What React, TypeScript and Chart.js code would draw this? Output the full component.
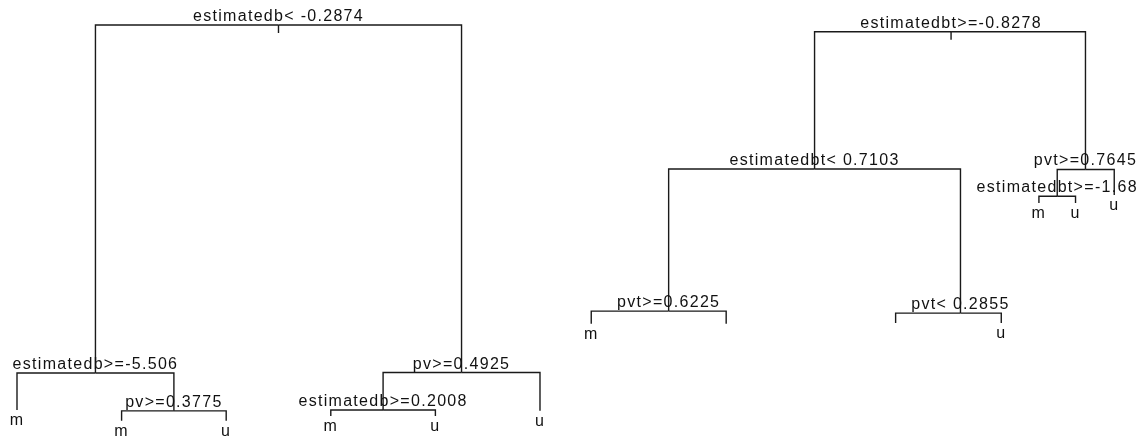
import { useEffect, useRef } from "react";
import { Chart, registerables } from "chart.js";

Chart.register(...registerables);

// Left classification tree (splits on estimatedb / pv)
const leftLabels = [
  "estimatedb< -0.2874",
  "estimatedb>=-5.506",
  "m",
  "pv>=0.3775",
  "m",
  "u",
  "pv>=0.4925",
  "estimatedb>=0.2008",
  "m",
  "u",
  "u",
];
const leftParent = [-1, 0, 1, 1, 3, 3, 0, 6, 7, 7, 6];
const leftX = [3.5, 1.75, 1, 2.5, 2, 3, 5.25, 4.5, 4, 5, 6];
const leftY = [100, 12.8, 3.5, 3.3, 0.8, 0.8, 12.9, 3.5, 2.0, 2.0, 3.3];

// Right classification tree (splits on estimatedbt / pvt)
const rightLabels = [
  "estimatedbt>=-0.8278",
  "estimatedbt< 0.7103",
  "pvt>=0.6225",
  "m",
  "",
  "pvt< 0.2855",
  "",
  "u",
  "pvt>=0.7645",
  "estimatedbt>=-1.68",
  "m",
  "u",
  "u",
];
const rightParent = [-1, 0, 1, 2, 2, 1, 5, 5, 0, 8, 9, 9, 8];
const rightX = [9.93, 8.625, 7.23, 6.49, 7.78, 10.02, 9.4, 10.41, 11.215, 10.945, 10.77, 11.12, 11.49];
const rightY = [98.3, 63.9, 28.3, 25.1, 25.1, 27.8, 25.3, 25.3, 63.8, 57.1, 55.4, 55.4, 57.4];

type Tree = { labels: string[]; parent: number[]; x: number[]; y: number[] };
const trees: Tree[] = [
  { labels: leftLabels, parent: leftParent, x: leftX, y: leftY },
  { labels: rightLabels, parent: rightParent, x: rightX, y: rightY },
];

const LINE = "#1a1a1a";
const ROOT_STEM = 2.0; // length of the stem under each root, in height units
const FONT = "16px 'Liberation Sans', Arial, sans-serif";

function branchDatasets() {
  const sets: any[] = [];
  trees.forEach((t) => {
    t.parent.forEach((p, i) => {
      const data =
        p < 0
          ? [
              { x: t.x[i], y: t.y[i] },
              { x: t.x[i], y: t.y[i] - ROOT_STEM },
            ]
          : [
              { x: t.x[p], y: t.y[p] },
              { x: t.x[i], y: t.y[p] },
              { x: t.x[i], y: t.y[i] },
            ];
      sets.push({
        data,
        showLine: true,
        borderColor: LINE,
        borderWidth: 1.4,
        pointRadius: 0,
        tension: 0,
        fill: false,
      });
    });
  });
  return sets;
}

const nodeLabels = {
  id: "nodeLabels",
  afterDatasetsDraw(chart: any) {
    const { ctx, scales } = chart;
    ctx.save();
    ctx.font = FONT;
    (ctx as any).letterSpacing = "1.3px";
    ctx.fillStyle = "#111";
    ctx.textAlign = "center";
    ctx.textBaseline = "alphabetic";
    trees.forEach((t) => {
      t.labels.forEach((lab, i) => {
        if (!lab) return;
        const isLeaf = !t.parent.includes(i);
        const px = scales.x.getPixelForValue(t.x[i]);
        const py = scales.y.getPixelForValue(t.y[i]);
        ctx.fillText(lab, px, isLeaf ? py + 15 : py - 4);
      });
    });
    ctx.restore();
  },
};

export default function App() {
  const ref = useRef<HTMLCanvasElement | null>(null);
  useEffect(() => {
    if (!ref.current) return;
    const chart = new Chart(ref.current, {
      type: "scatter",
      data: { datasets: branchDatasets() },
      options: {
        animation: false,
        responsive: false,
        maintainAspectRatio: false,
        devicePixelRatio: 1,
        events: [],
        layout: { padding: 0 },
        scales: {
          x: { type: "linear", min: 0.8375, max: 11.765, display: false },
          y: { type: "linear", min: -4.01, max: 106.27, display: false },
        },
        plugins: { legend: { display: false }, tooltip: { enabled: false } },
      },
      plugins: [nodeLabels],
    });
    return () => chart.destroy();
  }, []);
  return (
    <div style={{ position: "fixed", left: 0, top: 0, width: 1143, height: 440, background: "#fff" }}>
      <canvas ref={ref} width={1143} height={440} style={{ display: "block" }} />
    </div>
  );
}
